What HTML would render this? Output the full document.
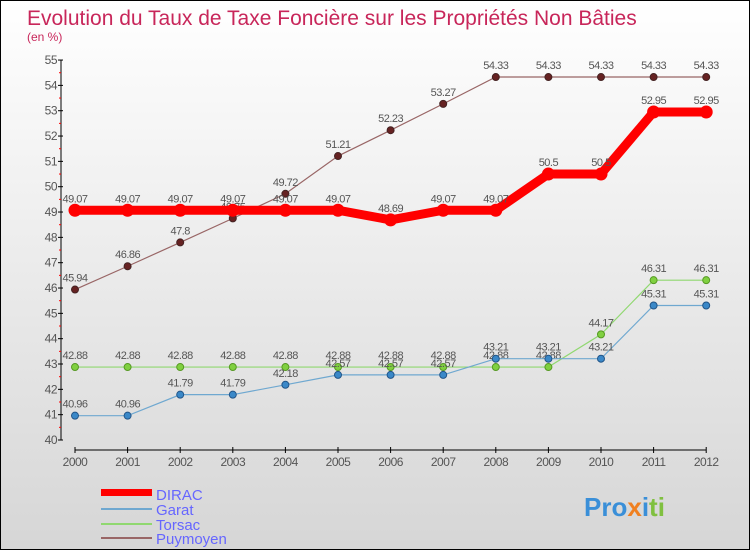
<!DOCTYPE html>
<html><head><meta charset="utf-8"><style>
body{margin:0}
#wrap{width:748px;height:548px;border:1px solid #000;background:linear-gradient(#fff,#d6d6d6);position:relative;overflow:hidden;font-family:"Liberation Sans",sans-serif}
svg text{font-family:"Liberation Sans",sans-serif}
</style></head><body>
<div id="wrap">
<svg id="c" width="748" height="548">
<text x="26" y="24" font-size="21" fill="#c8265a">Evolution du Taux de Taxe Foncière sur les Propriétés Non Bâties</text>
<text x="26" y="40" font-size="12" fill="#c8265a">(en %)</text>
<g id="axes"></g><g id="series"></g>
<g>
<rect x="100" y="488" width="51" height="7" fill="#f00"/>
<text x="155" y="499" font-size="15" fill="#6666ff">DIRAC</text>
<rect x="100" y="507" width="51" height="2" fill="#6fa8d0"/>
<text x="155" y="514" font-size="15" fill="#6666ff">Garat</text>
<rect x="100" y="522" width="51" height="2" fill="#90d870"/>
<text x="155" y="529" font-size="15" fill="#6666ff">Torsac</text>
<rect x="100" y="536" width="51" height="2" fill="#996666"/>
<text x="155" y="543" font-size="15" fill="#6666ff">Puymoyen</text>
</g>
<text x="583" y="515" font-size="26" font-weight="bold"><tspan fill="#3a8fd8">Pro</tspan><tspan fill="#f08020">x</tspan><tspan fill="#3a8fd8">i</tspan><tspan fill="#80c040">ti</tspan></text>
</svg></div>
<script>
const years=[2000,2001,2002,2003,2004,2005,2006,2007,2008,2009,2010,2011,2012];
const dirac=[49.07,49.07,49.07,49.07,49.07,49.07,48.69,49.07,49.07,50.5,50.5,52.95,52.95];
const garat=[40.96,40.96,41.79,41.79,42.18,42.57,42.57,42.57,43.21,43.21,43.21,45.31,45.31];
const torsac=[42.88,42.88,42.88,42.88,42.88,42.88,42.88,42.88,42.88,42.88,44.17,46.31,46.31];
const puymoyen=[45.94,46.86,47.8,48.75,49.72,51.21,52.23,53.27,54.33,54.33,54.33,54.33,54.33];
const yTicks=[40,41,42,43,44,45,46,47,48,49,50,51,52,53,54,55];
const NS="http://www.w3.org/2000/svg";
const X=i=>74+i*52.6, Y=v=>439-(v-40)*25.33;
function mk(t,a,p){const e=document.createElementNS(NS,t);for(const k in a)e.setAttribute(k,a[k]);p.appendChild(e);return e;}
const ax=document.getElementById('axes'), se=document.getElementById('series');
let l=mk('line',{x1:60,y1:Y(55),x2:60,y2:Y(40),stroke:'#000'},ax);


l=mk('line',{x1:X(0),y1:449,x2:X(12),y2:449,stroke:'#000'},ax);


yTicks.forEach(v=>{
 mk('line',{x1:57,y1:Y(v),x2:62,y2:Y(v),stroke:'#000'},ax);
 if(v<55) mk('line',{x1:58,y1:Y(v+0.5),x2:60,y2:Y(v+0.5),stroke:'#f00'},ax);
 const t=mk('text',{x:56,y:Y(v)+4,'font-size':12,'text-anchor':'end',fill:'#555','letter-spacing':'-0.5'},ax);
 t.textContent=v;
 
 
});
years.forEach((y,i)=>{
 mk('line',{x1:X(i),y1:446,x2:X(i),y2:452,stroke:'#000'},ax);
 const t=mk('text',{x:X(i),y:465,'font-size':12,'text-anchor':'middle',fill:'#555','letter-spacing':'-0.5'},ax);
 t.textContent=y;
 
 
});
function series(d,name,col,w,dotFill,dotR,dotStroke){
 const g=mk('g',{},se);
 
 
 const p=mk('polyline',{points:d.map((v,i)=>X(i)+','+Y(v)).join(' '),fill:'none',stroke:col,'stroke-width':w},g);
 
 
 d.forEach((v,i)=>{
  const c=mk('circle',{cx:X(i),cy:Y(v),r:dotR,fill:dotFill,stroke:dotStroke,'stroke-width':1},g);
  
  
  const t=mk('text',{x:X(i),y:Y(v)-8,'font-size':11,'text-anchor':'middle',fill:'#555','letter-spacing':'-0.5'},g);
  t.textContent=v;
  
  
 });
}
series(puymoyen,'puymoyen','#996666',1.2,'#662222',3.5,'#442222');
series(torsac,'torsac','#90d870',1.2,'#80d040',3.5,'#559922');
series(garat,'garat','#6fa8d0',1.2,'#3a88c8',3.5,'#225588');
series(dirac,'dirac','#f00',9,'#f00',6,'#f00');
</script>
</body></html>
